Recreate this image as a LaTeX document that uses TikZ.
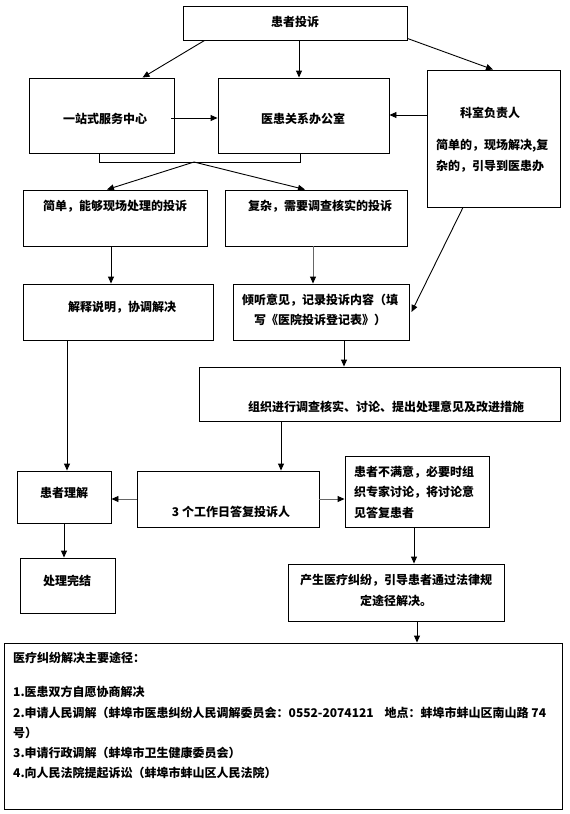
\documentclass[tikz,border=0pt]{standalone}
\usepackage{fontspec}
\newfontfamily\cjk{Noto Sans CJK SC}
\usetikzlibrary{arrows.meta,calc}
\tikzset{
  box/.style={draw=black, line width=0.9pt, inner sep=0pt},
  txt/.style={inner sep=0pt, font=\cjk\bfseries\fontsize{12}{20.5}\selectfont},
  conn/.style={line width=0.9pt, draw=black},
  arr/.style={conn, -{Triangle[length=7pt,width=6pt]}},
  garr/.style={line width=0.9pt, draw=black!60, -{Triangle[length=7pt,width=6pt,color=black]}}
}
\begin{document}
\begin{tikzpicture}[x=1pt,y=-1pt]
\useasboundingbox (0,0) rectangle (570,814);
% boxes
\node[box, minimum width=224pt, minimum height=34pt] (tousu) at (295,23) {};
\node[box, minimum width=145pt, minimum height=75pt] (yizhan) at (101.5,115.5) {};
\node[box, minimum width=171pt, minimum height=75pt] (yihuan) at (303.5,115.5) {};
\node[box, minimum width=133pt, minimum height=137pt] (keshi) at (493.5,138.5) {};
\node[box, minimum width=184pt, minimum height=56pt] (jiandan) at (115,218) {};
\node[box, minimum width=182pt, minimum height=56pt] (fuza) at (316,218) {};
\node[box, minimum width=190pt, minimum height=56pt] (jieshi) at (118,312) {};
\node[box, minimum width=176pt, minimum height=56pt] (qingting) at (321,312) {};
\node[box, minimum width=361pt, minimum height=54pt] (zuzhi) at (379.5,394) {};
\node[box, minimum width=94pt, minimum height=52pt] (lijie) at (64,497) {};
\node[box, minimum width=182pt, minimum height=56pt] (dafu) at (228,499) {};
\node[box, minimum width=144pt, minimum height=71pt] (bumanyi) at (417,491.5) {};
\node[box, minimum width=95pt, minimum height=55pt] (wanjie) at (67.5,585.5) {};
\node[box, minimum width=216pt, minimum height=57pt] (chansheng) at (396,592.5) {};
\node[box, minimum width=558pt, minimum height=166pt] (bottom) at (283,726) {};
% texts
\node[txt] (t1) at (295,22) {患者投诉};
\node[txt] (t2) at (105,119) {一站式服务中心};
\node[txt] (t3) at (303,119) {医患关系办公室};
\node[txt] (t4) at (490,113) {科室负责人};
\node[txt, anchor=west, align=left] (t5) at (436,155.5) {简单的，现场解决,复\\杂的，引导到医患办};
\node[txt] (t6) at (115,206) {简单，能够现场处理的投诉};
\node[txt] (t7) at (320,206) {复杂，需要调查核实的投诉};
\node[txt] (t8) at (122,307) {解释说明，协调解决};
\node[txt, align=center] (t9) at (320,310) {倾听意见，记录投诉内容（填\\写《医院投诉登记表》）};
\node[txt] (t10) at (386,407) {组织进行调查核实、讨论、提出处理意见及改进措施};
\node[txt] (t11) at (64,493) {患者理解};
\node[txt] (t12) at (231,512) {3 个工作日答复投诉人};
\node[txt, anchor=west, align=left] (t13) at (354,492) {患者不满意，必要时组\\织专家讨论，将讨论意\\见答复患者};
\node[txt] (t14) at (67,581) {处理完结};
\node[txt, align=center] (t15) at (396,590.5) {产生医疗纠纷，引导患者通过法律规\\定途径解决。};
\node[txt, anchor=west] (b0) at (13,658) {医疗纠纷解决主要途径：};
\node[txt, anchor=west] (b1) at (13,692) {1.医患双方自愿协商解决};
\node[txt, anchor=west] (b2) at (13,713) {2.申请人民调解（蚌埠市医患纠纷人民调解委员会：0552-2074121\ \ \ \ 地点：蚌埠市蚌山区南山路\ 74};
\node[txt, anchor=west] (b3) at (13,733) {号）};
\node[txt, anchor=west] (b4) at (13,753) {3.申请行政调解（蚌埠市卫生健康委员会）};
\node[txt, anchor=west] (b5) at (13,773) {4.向人民法院提起诉讼（蚌埠市蚌山区人民法院）};
% bracket
\coordinate (bl) at (99,162);
\coordinate (br) at (300,162);
\coordinate (bm) at (194,162);
\draw[conn] (bl |- yizhan.south) -- (bl) -- (br) -- (br |- yihuan.south);
% connectors
\draw[arr] ([xshift=22pt]tousu.south west) -- ([xshift=114pt]yizhan.north west);
\draw[arr] ([xshift=4pt]tousu.south) -- ([xshift=-4.5pt]yihuan.north);
\draw[arr] ([yshift=2pt]tousu.south east) -- ([xshift=-0.5pt]keshi.north);
\draw[arr] ([xshift=-3pt,yshift=-2.5pt]yizhan.east) -- ([yshift=-2.5pt]yihuan.west);
\draw[arr] ([yshift=23.5pt]keshi.west) -- ([yshift=0.5pt]yihuan.east);
\draw[arr] (bm) -- ([xshift=-8pt]jiandan.north);
\draw[arr] (bm) -- ([xshift=-11pt]fuza.north);
\draw[arr] ([xshift=-4pt]jiandan.south) -- ([xshift=-7pt]jieshi.north);
\draw[garr] ([xshift=-3pt]fuza.south) -- ([xshift=-8pt]qingting.north);
\draw[arr] ([xshift=-30.5pt]keshi.south) -- ([xshift=2pt]qingting.east);
\draw[arr] ([xshift=23pt]qingting.south) -- ([xshift=-35.5pt]zuzhi.north);
\draw[arr] ([xshift=-51pt]jieshi.south) -- ([xshift=3pt]lijie.north);
\draw[arr] ([xshift=-98.5pt]zuzhi.south) -- ([xshift=53pt]dafu.north);
\draw[garr] (dafu.west) -- (lijie.east |- dafu.west);
\draw[garr] (dafu.east) -- (bumanyi.west |- dafu.east);
\draw[arr] (lijie.south) -- (lijie.south |- wanjie.north);
\draw[arr] ([xshift=-3pt]bumanyi.south) -- ([xshift=18pt]chansheng.north);
\draw[arr] ([xshift=21pt]chansheng.south) -- ([xshift=134pt]bottom.north);
\end{tikzpicture}
\end{document}
